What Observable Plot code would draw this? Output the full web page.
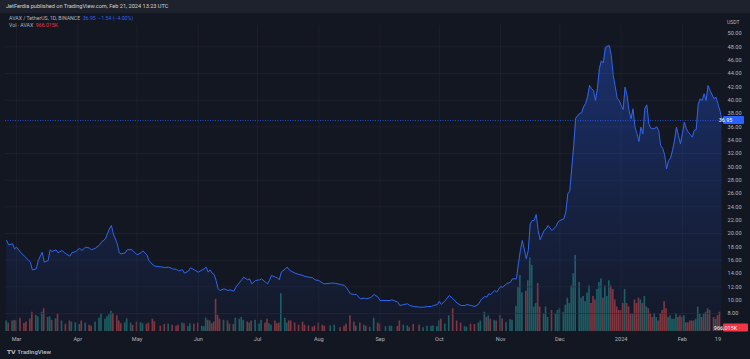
<!DOCTYPE html>
<html><head><meta charset="utf-8">
<script src="https://cdn.jsdelivr.net/npm/d3@7"></script>
<script src="https://cdn.jsdelivr.net/npm/@observablehq/plot@0.6"></script>
<style>
html,body{margin:0;padding:0;background:#131722;}
#wrap{position:relative;width:750px;height:359px;overflow:hidden;background:#131722;font-family:Roboto,"Noto Sans",sans-serif;}
#wrap svg{position:absolute;left:0;top:0;}
.hdr{position:absolute;left:0;top:0;width:750px;height:13px;background:#1e222d;color:#d1d4dc;font-size:5.6px;line-height:13px;padding-left:6px;box-sizing:border-box;}
.leg{position:absolute;left:9px;font-size:5.2px;color:#b2b5be;white-space:pre;}
.logo{position:absolute;left:7px;top:348px;font-size:6px;color:#b2b5be;font-weight:600;}
.unit{position:absolute;left:727px;top:19px;font-size:5px;color:#b2b5be;}
</style></head>
<body><div id="wrap"></div>
<script>
// ---- data ----
const priceDates = ["2023-02-24","2023-02-25","2023-02-27","2023-02-28","2023-03-01","2023-03-03","2023-03-05","2023-03-06","2023-03-08","2023-03-09","2023-03-11","2023-03-12","2023-03-14","2023-03-15","2023-03-17","2023-03-18","2023-03-19","2023-03-21","2023-03-22","2023-03-24","2023-03-26","2023-03-28","2023-03-29","2023-03-31","2023-04-02","2023-04-03","2023-04-05","2023-04-07","2023-04-08","2023-04-10","2023-04-12","2023-04-13","2023-04-15","2023-04-16","2023-04-17","2023-04-18","2023-04-19","2023-04-21","2023-04-22","2023-04-23","2023-04-25","2023-04-26","2023-04-28","2023-04-29","2023-05-01","2023-05-03","2023-05-04","2023-05-06","2023-05-07","2023-05-09","2023-05-10","2023-05-13","2023-05-15","2023-05-17","2023-05-19","2023-05-21","2023-05-22","2023-05-24","2023-05-25","2023-05-27","2023-05-28","2023-05-30","2023-06-01","2023-06-03","2023-06-04","2023-06-05","2023-06-06","2023-06-07","2023-06-08","2023-06-09","2023-06-10","2023-06-11","2023-06-12","2023-06-14","2023-06-16","2023-06-17","2023-06-19","2023-06-20","2023-06-22","2023-06-23","2023-06-24","2023-06-26","2023-06-27","2023-06-28","2023-06-30","2023-07-02","2023-07-03","2023-07-05","2023-07-06","2023-07-07","2023-07-08","2023-07-10","2023-07-11","2023-07-12","2023-07-13","2023-07-15","2023-07-16","2023-07-17","2023-07-18","2023-07-20","2023-07-22","2023-07-24","2023-07-25","2023-07-27","2023-07-29","2023-07-30","2023-08-01","2023-08-03","2023-08-04","2023-08-07","2023-08-09","2023-08-12","2023-08-14","2023-08-15","2023-08-17","2023-08-19","2023-08-20","2023-08-22","2023-08-24","2023-08-25","2023-08-27","2023-08-29","2023-08-31","2023-09-01","2023-09-04","2023-09-06","2023-09-07","2023-09-10","2023-09-11","2023-09-13","2023-09-15","2023-09-16","2023-09-18","2023-09-21","2023-09-23","2023-09-25","2023-09-27","2023-09-28","2023-09-30","2023-10-01","2023-10-02","2023-10-04","2023-10-06","2023-10-08","2023-10-10","2023-10-12","2023-10-14","2023-10-15","2023-10-17","2023-10-19","2023-10-21","2023-10-22","2023-10-24","2023-10-25","2023-10-26","2023-10-27","2023-10-29","2023-10-30","2023-11-01","2023-11-02","2023-11-04","2023-11-06","2023-11-07","2023-11-09","2023-11-10","2023-11-11","2023-11-12","2023-11-14","2023-11-15","2023-11-16","2023-11-17","2023-11-18","2023-11-19","2023-11-20","2023-11-21","2023-11-23","2023-11-24","2023-11-25","2023-11-27","2023-11-29","2023-11-30","2023-12-01","2023-12-03","2023-12-04","2023-12-05","2023-12-06","2023-12-07","2023-12-08","2023-12-09","2023-12-11","2023-12-12","2023-12-13","2023-12-14","2023-12-15","2023-12-16","2023-12-17","2023-12-18","2023-12-19","2023-12-20","2023-12-21","2023-12-22","2023-12-23","2023-12-24","2023-12-25","2023-12-26","2023-12-27","2023-12-28","2023-12-29","2023-12-30","2023-12-31","2024-01-01","2024-01-02","2024-01-03","2024-01-04","2024-01-05","2024-01-06","2024-01-07","2024-01-08","2024-01-09","2024-01-10","2024-01-11","2024-01-12","2024-01-13","2024-01-14","2024-01-15","2024-01-16","2024-01-17","2024-01-18","2024-01-19","2024-01-20","2024-01-21","2024-01-22","2024-01-23","2024-01-24","2024-01-25","2024-01-26","2024-01-27","2024-01-28","2024-01-29","2024-01-30","2024-01-31","2024-02-01","2024-02-02","2024-02-03","2024-02-04","2024-02-05","2024-02-06","2024-02-07","2024-02-08","2024-02-09","2024-02-10","2024-02-11","2024-02-12","2024-02-13","2024-02-14","2024-02-15","2024-02-17","2024-02-18","2024-02-19","2024-02-20","2024-02-21"];
const priceValues = [18.95,18.3,18.45,17.7,17.95,17.2,16.6,16.3,15.7,14.55,14.7,15.95,17.2,15.7,15.95,17.55,17.3,17.55,17.1,17.45,16.95,16.6,17.1,17.3,17.8,17.45,17.95,17.8,17.55,17.8,18.3,18.7,19.2,19.95,20.7,21.2,19.95,18.45,17.1,16.95,17.1,17.55,17.6,17.4,16.8,17.1,17.4,16.8,15.95,15.3,15.1,15.0,14.9,14.95,14.7,14.6,14.4,14.55,14.05,14.35,14.85,14.55,14.2,14.55,14.7,14.95,14.2,14.55,14.05,13.85,12.95,11.7,11.45,11.7,11.45,11.55,11.35,11.95,12.7,13.05,13.45,13.05,13.2,12.45,12.95,13.05,13.2,12.7,12.45,12.95,13.7,13.45,13.35,13.05,14.2,14.7,14.95,14.55,14.35,14.05,13.85,13.7,13.55,13.45,13.35,13.05,12.95,12.55,12.45,12.55,12.55,12.35,12.2,11.85,10.95,10.85,10.85,10.2,10.3,10.2,10.35,10.85,10.45,9.95,9.95,9.95,10.05,9.7,9.2,9.35,9.45,9.2,9.05,8.95,8.95,9.05,9.05,9.2,9.35,9.85,9.35,9.95,10.7,10.2,9.55,9.2,9.2,9.35,9.2,9.05,9.45,10.05,10.55,10.45,10.95,10.85,11.45,11.2,12.05,11.95,12.45,12.7,13.2,13.2,15.45,17.45,18.95,16.2,17.45,21.45,21.95,21.95,22.85,20.45,19.05,20.45,20.7,21.2,20.45,21.05,21.7,21.95,22.2,23.2,25.95,26.35,29.8,33.2,37.3,38.0,38.1,39.0,39.5,40.5,42.2,41.75,41.45,39.95,41.8,44.75,45.9,45.6,47.9,48.1,48.2,46.7,43.7,42.05,40.3,39.95,39.2,38.6,41.95,40.7,38.45,37.2,38.7,35.95,35.0,33.8,35.95,34.95,38.75,39.3,36.45,35.8,35.7,35.75,36.0,35.45,33.2,32.8,31.8,29.7,30.95,31.3,32.45,33.95,35.95,34.7,33.45,34.95,36.7,35.7,35.2,34.85,34.45,35.45,35.6,39.35,40.2,39.95,40.95,39.95,42.2,41.45,40.2,40.45,39.45,38.45,36.95];
// volume for the same days, in millions of AVAX
const volValues = [3.0,2.4,3.0,3.2,3.0,3.8,2.3,2.7,3.6,5.5,4.6,4.2,5.5,6.5,4.0,4.2,3.2,3.6,5.0,3.0,2.1,3.0,2.7,2.5,
2.0,3.0,2.4,1.8,1.5,2.7,3.8,5.0,3.5,4.2,4.8,5.8,5.2,4.5,3.0,2.2,2.5,3.6,2.4,1.7,
2.7,2.5,2.2,2.1,2.4,3.5,2.8,1.5,2.0,2.1,1.8,1.5,1.8,2.4,2.2,1.4,2.2,2.1,
2.4,1.5,1.4,3.8,3.2,3.0,2.2,2.7,9.2,4.6,3.5,3.2,3.0,2.1,2.0,3.8,3.5,4.0,3.2,2.7,2.4,3.0,3.2,
2.1,3.2,2.4,3.5,2.2,1.8,3.0,2.2,2.4,10.8,3.8,2.4,3.0,3.0,2.4,1.8,2.7,1.8,1.6,1.2,1.5,
2.4,1.8,1.5,1.6,1.8,1.1,1.5,2.1,4.5,2.7,1.5,2.4,1.8,1.5,1.2,3.8,2.4,
2.1,1.4,1.5,1.5,1.4,3.0,1.8,1.6,1.1,2.0,1.8,1.1,1.5,1.5,1.6,1.4,
3.0,3.5,2.1,4.5,6.5,3.0,2.4,1.4,1.2,2.1,2.0,2.4,3.0,5.5,4.0,4.5,3.5,3.2,3.0,
4.6,3.6,2.6,3.4,3.2,7.2,12.6,16.0,11.0,11.5,14.5,21.0,18.9,7.0,8.0,13.7,7.0,5.0,7.0,4.0,6.0,5.0,6.0,
6.5,5.5,7.5,9.5,8.0,13.0,16.5,21.7,14.0,9.5,10.0,8.5,11.0,13.0,8.0,10.0,9.0,12.0,14.0,15.0,9.5,13.0,10.0,14.5,13.0,12.0,9.0,7.0,6.0,
6.0,8.0,12.0,8.0,7.0,5.0,5.0,9.0,8.0,9.5,9.0,8.0,10.0,7.0,6.5,5.0,4.0,5.0,4.0,3.0,5.0,6.0,8.5,6.5,4.0,4.5,3.5,3.5,5.0,4.0,4.5,
4.0,4.5,2.5,2.5,3.0,3.0,3.0,3.5,7.0,5.0,4.0,5.0,5.5,6.5,6.0,4.0,3.5,4.5,5.5,0.97];

const yTicks = [8,10,12,14,16,18,20,22,24,26,28,30,32,34,36,38,40,42,44,46,48,50];
const gridValues = [8,12,16,20,24,28,32,36,40,44,48];
const xTickDates = ["2023-03-01","2023-04-01","2023-05-01","2023-06-01","2023-07-01","2023-08-01","2023-09-01","2023-10-01","2023-11-01","2023-12-01","2024-01-01","2024-02-01","2024-02-19"];
const xTickLabels = ["Mar","Apr","May","Jun","Jul","Aug","Sep","Oct","Nov","Dec","2024","Feb","19"];
const lastPrice = 36.95;
const lastVolLabel = "966.015K";
const headerText = "JetFerdia published on TradingView.com, Feb 21, 2024 13:23 UTC";

// ---- build ----
const parse = d3.utcParse("%Y-%m-%d");
const price = priceDates.map((d,i)=>({date: parse(d), close: priceValues[i]}));
const vol = priceDates.map((d,i)=>({date: parse(d), v: volValues[i], dir: (i === 0 || priceValues[i] >= priceValues[i-1]) ? "u" : "d"}));
const xt = xTickDates.map(parse);
const xDomain = [new Date(Date.UTC(2023,1,23,10)), new Date(Date.UTC(2024,1,21,7))];
const W = 750, H = 359, mT = 25, mB = 28, mL = 5, mR = 28;
const DAY = 864e5;
const ns = "http://www.w3.org/2000/svg";

function gradientDefs(){
  const defs=document.createElementNS(ns,"defs");
  const g=document.createElementNS(ns,"linearGradient");
  g.setAttribute("id","areaGrad");g.setAttribute("x1","0");g.setAttribute("x2","0");g.setAttribute("y1","0");g.setAttribute("y2","1");
  [["0%","#2962ff",0.34],["55%","#2962ff",0.15],["100%","#2962ff",0.03]].forEach(([o,c,a])=>{
    const s=document.createElementNS(ns,"stop");s.setAttribute("offset",o);s.setAttribute("stop-color",c);s.setAttribute("stop-opacity",a);g.appendChild(s);});
  defs.appendChild(g);return defs;
}
function tag(y, text, fill, w){
  const g=document.createElementNS(ns,"g");
  const r=document.createElementNS(ns,"rect");
  r.setAttribute("x", W - mR + 1); r.setAttribute("y", y - 4); r.setAttribute("width", w); r.setAttribute("height", 8);
  r.setAttribute("fill", fill); r.setAttribute("rx","1");
  const t=document.createElementNS(ns,"text");
  t.setAttribute("x", W - mR + 3.5); t.setAttribute("y", y + 2); t.setAttribute("fill","#fff");
  t.setAttribute("font-size","5.4px"); t.textContent = text;
  g.appendChild(r); g.appendChild(t); return g;
}

const pricePlot = Plot.plot({
  width: W, height: H, marginTop: mT, marginBottom: mB, marginLeft: mL, marginRight: mR,
  style: {background: "transparent", color: "#b2b5be", fontSize: "5.6px", fontFamily: "Roboto, 'Noto Sans', sans-serif"},
  x: {type: "utc", domain: xDomain, ticks: xt, tickFormat: d => xTickLabels[xt.findIndex(t => +t === +d)], tickSize: 0, tickPadding: 6, label: null},
  y: {domain: [5.3, 51.2], axis: "right", ticks: yTicks, tickFormat: d => d.toFixed(2), tickSize: 0, tickPadding: 5, label: null},
  marks: [
    () => gradientDefs(),
    Plot.ruleY(gridValues, {stroke: "#232733", strokeWidth: 0.6}),
    Plot.ruleX(xt.slice(0, 12), {stroke: "#232733", strokeWidth: 0.6}),
    Plot.areaY(price, {x: "date", y1: 5.3, y2: "close", fill: "url(#areaGrad)"}),
    Plot.lineY(price, {x: "date", y: "close", stroke: "#3165ee", strokeWidth: 1}),
    Plot.ruleY([lastPrice], {stroke: "#2962ff", strokeWidth: 0.7, strokeDasharray: "1,1.5"}),
    (index, scales) => tag(scales.y(lastPrice), lastPrice.toFixed(2), "#2962ff", 21)
  ]
});

const volPlot = Plot.plot({
  width: W, height: H, marginTop: mT, marginBottom: mB, marginLeft: mL, marginRight: mR,
  style: {background: "transparent"},
  x: {type: "utc", domain: xDomain, axis: null},
  y: {domain: [0, 306/3.5], axis: null},
  color: {domain: ["u","d"], range: ["#26a69a","#ef5350"]},
  marks: [
    Plot.rectY(vol, {x1: d => new Date(+d.date - 0.42*DAY), x2: d => new Date(+d.date + 0.42*DAY), y: "v", fill: "dir", fillOpacity: 0.5}),
    (index, scales) => tag(scales.y(vol[vol.length-1].v), lastVolLabel, "#f23645", 25)
  ]
});

const wrap = document.getElementById("wrap");
wrap.appendChild(volPlot);
wrap.appendChild(pricePlot);
const hdr = document.createElement("div"); hdr.className="hdr"; hdr.textContent = headerText; wrap.appendChild(hdr);
const l1 = document.createElement("div"); l1.className="leg"; l1.style.top="15px";
l1.innerHTML = 'AVAX / TetherUS, 1D, BINANCE  <span style="color:#2962ff">36.95  −1.54 (−4.00%)</span>';
wrap.appendChild(l1);
const l2 = document.createElement("div"); l2.className="leg"; l2.style.top="22px";
l2.innerHTML = 'Vol · AVAX  <span style="color:#f23645">' + lastVolLabel + '</span>';
wrap.appendChild(l2);
const unit = document.createElement("div"); unit.className="unit"; unit.textContent = "USDT"; wrap.appendChild(unit);
const logo = document.createElement("div"); logo.className="logo"; logo.textContent = "𝗧𝗩 TradingView"; wrap.appendChild(logo);
</script></body></html>
